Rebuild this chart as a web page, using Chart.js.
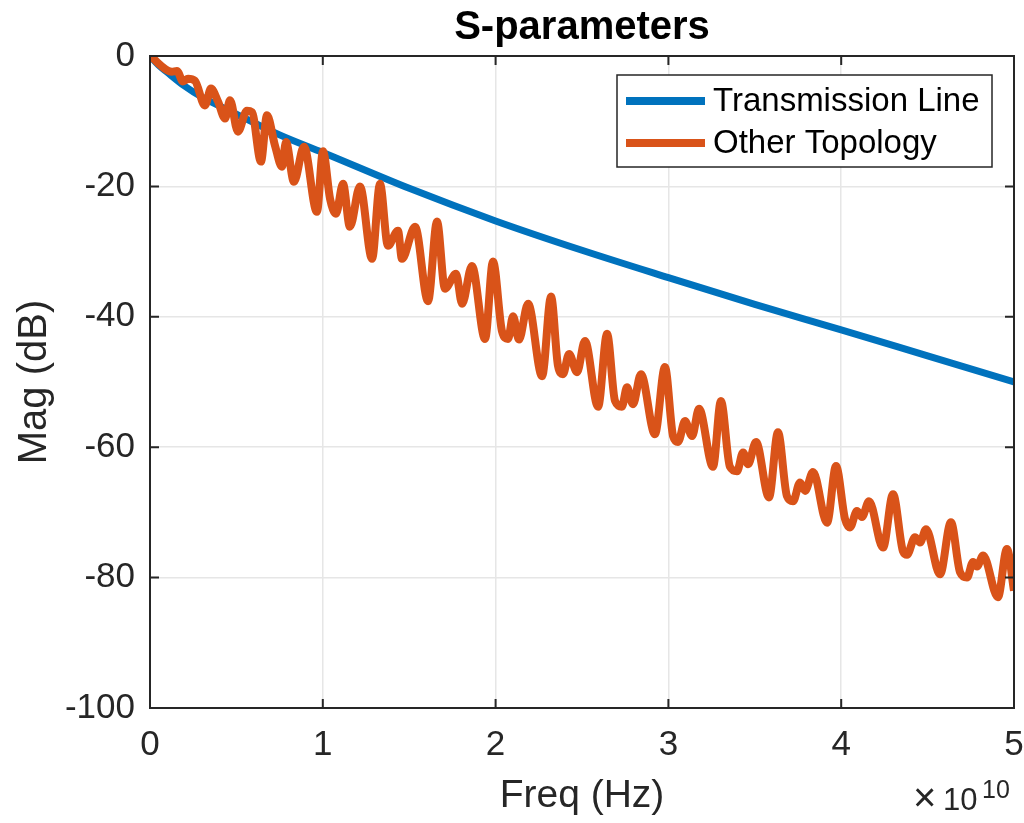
<!DOCTYPE html>
<html>
<head>
<meta charset="utf-8">
<script src="https://cdn.jsdelivr.net/npm/chart.js@4"></script>
<style>
  html, body { margin: 0; padding: 0; background: #fff; }
  canvas { display: block; }
</style>
</head>
<body>
<canvas id="sparam_canvas" width="1024" height="823"></canvas>
<script>
// frequency in units of 1e10 Hz, magnitude in dB
var line_freq = [0, 0.05, 0.1, 0.2, 0.3, 0.5, 0.75, 1, 1.5, 2, 2.5, 3, 3.5, 4, 4.5, 5];
var line_mag = [0, -1.4, -2.5, -4.6, -6.3, -8.9, -12.1, -14.8, -20.3, -25.3, -29.8, -34.0, -38.1, -42.0, -46.0, -50.0];

var topo_freq = [0, 0.127, 0.156, 0.191, 0.220, 0.260, 0.318, 0.353, 0.394, 0.434, 0.463, 0.509, 0.561, 0.590,
    0.642, 0.677, 0.723, 0.764, 0.787, 0.833, 0.891, 0.966, 1.001, 1.042, 1.076, 1.117, 1.157, 1.215, 1.285,
    1.331, 1.377, 1.435, 1.458, 1.534, 1.609, 1.661, 1.707, 1.771, 1.806, 1.863, 1.939, 1.985, 2.037, 2.072,
    2.101, 2.135, 2.188, 2.269, 2.321, 2.361, 2.390, 2.425, 2.471, 2.517, 2.593, 2.645, 2.691, 2.731, 2.760,
    2.795, 2.841, 2.922, 2.980, 3.027, 3.056, 3.096, 3.137, 3.177, 3.258, 3.304, 3.356, 3.397, 3.432, 3.461,
    3.507, 3.582, 3.634, 3.686, 3.721, 3.762, 3.791, 3.837, 3.918, 3.970, 4.022, 4.051, 4.091, 4.120, 4.161,
    4.242, 4.300, 4.358, 4.381, 4.427, 4.456, 4.491, 4.572, 4.635, 4.688, 4.728, 4.763, 4.786, 4.821, 4.907,
    4.959, 5.0];
var topo_mag = [0, -2.4, -2.3, -3.9, -3.5, -3.8, -7.6, -5.0, -7.0, -9.6, -6.8, -11.6, -8.4, -8.6,
    -16.2, -9.1, -13.7, -17.0, -13.2, -19.3, -13.9, -23.9, -14.6, -21.9, -24.2, -19.6, -26.2, -20.0, -31.1,
    -19.6, -29.1, -26.8, -31.1, -26.2, -37.6, -25.4, -35.7, -33.4, -38.0, -32.2, -43.4, -31.5, -42.2, -43.4,
    -39.9, -43.5, -38.0, -49.1, -36.9, -47.5, -48.8, -45.7, -48.5, -43.7, -53.8, -42.6, -52.9, -53.8, -50.8,
    -53.4, -48.8, -58.0, -47.7, -58.3, -59.2, -56.0, -58.3, -54.1, -63.0, -52.9, -63.0, -63.7, -60.8, -62.6,
    -59.2, -67.7, -57.7, -67.5, -68.3, -65.4, -66.7, -63.8, -71.6, -62.9, -71.0, -72.3, -69.8, -70.7, -68.3,
    -75.4, -67.2, -76.0, -76.5, -73.8, -74.6, -72.6, -79.5, -71.5, -79.2, -80.0, -77.6, -78.3, -76.6, -83.0,
    -75.6, -82.0];

var x_ticks = [0, 1, 2, 3, 4, 5];
var y_ticks = [0, -20, -40, -60, -80, -100];
var series_names = ["Transmission Line", "Other Topology"];

var blue = "#0072BD";
var orange = "#D95319";
var axis_color = "#262626";
var font_family = "Arial, 'Liberation Sans', Helvetica, sans-serif";

function toPoints(xs, ys) {
    var pts = [];
    for (var i = 0; i < xs.length; i++) pts.push({x: xs[i], y: ys[i]});
    return pts;
}

var matlabLook = {
    id: "matlabLook",
    afterDraw: function(chart) {
        var ctx = chart.ctx;
        var a = chart.chartArea;
        var xs = chart.scales.x, ys = chart.scales.y;
        ctx.save();

        // axes box
        ctx.strokeStyle = axis_color;
        ctx.lineWidth = 2;
        ctx.strokeRect(a.left, a.top, a.right - a.left, a.bottom - a.top);

        // inward ticks on all four sides
        var tl = 9;
        ctx.beginPath();
        x_ticks.forEach(function(v) {
            var px = xs.getPixelForValue(v);
            ctx.moveTo(px, a.bottom); ctx.lineTo(px, a.bottom - tl);
            ctx.moveTo(px, a.top); ctx.lineTo(px, a.top + tl);
        });
        y_ticks.forEach(function(v) {
            var py = ys.getPixelForValue(v);
            ctx.moveTo(a.left, py); ctx.lineTo(a.left + tl, py);
            ctx.moveTo(a.right, py); ctx.lineTo(a.right - tl, py);
        });
        ctx.stroke();

        // title
        ctx.fillStyle = "#000";
        ctx.font = "bold 40px " + font_family;
        ctx.textAlign = "center";
        ctx.textBaseline = "alphabetic";
        ctx.fillText("S-parameters", (a.left + a.right) / 2, 39);

        // x10^10 exponent
        ctx.fillStyle = axis_color;
        ctx.textAlign = "left";
        ctx.font = "40px " + font_family;
        ctx.fillText("\u00d7", 913, 811);
        ctx.font = "31px " + font_family;
        ctx.fillText("10", 943, 810);
        ctx.font = "25px " + font_family;
        ctx.fillText("10", 982, 798);

        // legend
        var lx = 617, ly = 75, lw = 375, lh = 92;
        ctx.fillStyle = "#fff";
        ctx.fillRect(lx, ly, lw, lh);
        ctx.strokeStyle = axis_color;
        ctx.lineWidth = 1.5;
        ctx.strokeRect(lx, ly, lw, lh);
        var rows = [[series_names[0], blue, 101], [series_names[1], orange, 143]];
        ctx.font = "33px " + font_family;
        ctx.textBaseline = "middle";
        rows.forEach(function(r) {
            ctx.strokeStyle = r[1];
            ctx.lineWidth = 8;
            ctx.beginPath();
            ctx.moveTo(626, r[2]); ctx.lineTo(705, r[2]);
            ctx.stroke();
            ctx.fillStyle = "#000";
            ctx.fillText(r[0], 713, r[2] + 1);
        });
        ctx.restore();
    }
};

var ctx = document.getElementById("sparam_canvas").getContext("2d");

var data = {
    datasets: [
        {
            label: series_names[1],
            data: toPoints(topo_freq, topo_mag),
            borderColor: orange,
            borderWidth: 8,
            pointRadius: 0,
            cubicInterpolationMode: "monotone",
            order: 0
        },
        {
            label: series_names[0],
            data: toPoints(line_freq, line_mag),
            borderColor: blue,
            borderWidth: 7,
            pointRadius: 0,
            cubicInterpolationMode: "monotone",
            order: 1
        }
    ]
};

var options = {
    responsive: false,
    animation: false,
    layout: { padding: { top: 56, right: 10, left: 0, bottom: 0 } },
    plugins: {
        legend: { display: false },
        title: { display: false },
        tooltip: { enabled: false }
    },
    scales: {
        x: {
            type: "linear",
            min: 0, max: 5,
            afterFit: function(scale) { scale.height = 115; scale.paddingLeft = 0; scale.paddingRight = 0; },
            afterBuildTicks: function(scale) { scale.ticks = x_ticks.map(function(v) { return {value: v}; }); },
            grid: { color: "#e6e6e6", lineWidth: 1.5, drawTicks: false },
            border: { display: false },
            ticks: { color: axis_color, font: { size: 35, family: font_family }, padding: 16 },
            title: { display: true, text: "Freq (Hz)", color: axis_color, font: { size: 39, family: font_family, lineHeight: 1.2 }, padding: { top: 0, bottom: 3 } }
        },
        y: {
            type: "linear",
            min: -100, max: 0,
            afterFit: function(scale) { scale.width = 150; scale.paddingTop = 0; scale.paddingBottom = 0; },
            afterBuildTicks: function(scale) { scale.ticks = y_ticks.map(function(v) { return {value: v}; }); },
            grid: { color: "#e6e6e6", lineWidth: 1.5, drawTicks: false },
            border: { display: false },
            ticks: { color: axis_color, font: { size: 35, family: font_family }, padding: 15 },
            title: { display: true, text: "Mag (dB)", color: axis_color, font: { size: 40, family: font_family, lineHeight: 1.2 }, padding: { top: 11, bottom: 0 } }
        }
    }
};

var config = {
    type: "line",
    data: data,
    options: options,
    plugins: [matlabLook]
};

var sparam = new Chart(ctx, config);
</script>
</body>
</html>
